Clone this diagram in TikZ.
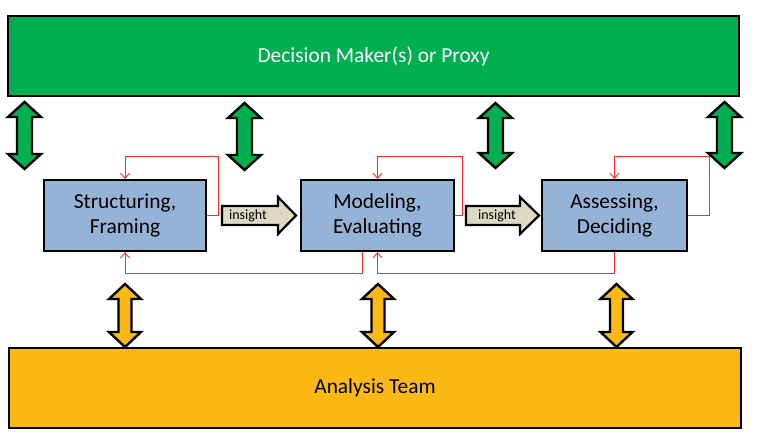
\documentclass[tikz,border=0pt]{standalone}
\usepackage{fontspec}
\setmainfont{Carlito}
\usetikzlibrary{arrows.meta}

\definecolor{dmgreen}{RGB}{0,176,80}
\definecolor{teamgold}{RGB}{253,185,19}
\definecolor{stepblue}{RGB}{149,179,215}
\definecolor{insighttan}{RGB}{221,217,195}
\definecolor{loopred}{RGB}{255,40,40}

% Vertical two-headed block arrow: style, centre x, top y, bottom y, head half-width, shaft half-width
\newcommand\blockbiarrow[6]{%
  \draw[#1] (#2,#3) -- (#2+#5,#3+15) -- (#2+#6,#3+15) -- (#2+#6,#4-15)
    -- (#2+#5,#4-15) -- (#2,#4) -- (#2-#5,#4-15) -- (#2-#6,#4-15)
    -- (#2-#6,#3+15) -- (#2-#5,#3+15) -- cycle;}

\begin{document}
\begin{tikzpicture}[x=1pt,y=-1pt,
  bar/.style={draw=black, line width=2.6pt, minimum width=731pt, minimum height=80pt,
    font=\fontsize{21.4}{25}\selectfont},
  stepbox/.style={draw=black, line width=2.4pt, fill=stepblue, minimum height=71pt,
    align=center, font=\fontsize{21.4}{25}\selectfont},
  greenarrow/.style={draw=black, line width=2.4pt, fill=dmgreen, line join=miter},
  goldarrow/.style={draw=black, line width=2.4pt, fill=teamgold, line join=miter},
  insightarrow/.style={draw=black, line width=2.2pt, fill=insighttan, line join=miter},
  loop/.style={draw=loopred, line width=0.9pt,
    -{Straight Barb[length=5pt,width=9pt,line width=0.9pt]}},
]
\useasboundingbox (0,0) rectangle (758,437);

% stakeholder bars
\node[bar, fill=dmgreen, text=white] (dm) at (373.5,56) {Decision Maker(s) or Proxy};
\node[bar, fill=teamgold, minimum width=732pt] (team) at (375,388) {Analysis Team};

% process steps
\node[stepbox, minimum width=162pt] (s1) at (125,215.5) {Structuring,\\Framing};
\node[stepbox, minimum width=153pt] (s2) at (377.5,215.5) {Modeling,\\Evaluating};
\node[stepbox, minimum width=145pt] (s3) at (614.5,215.5) {Assessing,\\Deciding};

% exchange with the decision makers
\blockbiarrow{greenarrow}{24.5}{102}{169}{16.5}{7.5}
\blockbiarrow{greenarrow}{244.5}{103}{170}{16.5}{7.5}
\blockbiarrow{greenarrow}{495.5}{103}{168}{16.5}{7.5}
\blockbiarrow{greenarrow}{724.5}{102}{168}{16.5}{7.5}

% exchange with the analysis team
\blockbiarrow{goldarrow}{125}{284}{347}{16}{6.5}
\blockbiarrow{goldarrow}{378}{284}{347}{16}{6.5}
\blockbiarrow{goldarrow}{616.5}{284}{347}{16}{6.5}

% insight arrows between steps
\draw[insightarrow] (222,206) -- (278,206) -- (278,197) -- (296,215.5) -- (278,234)
  -- (278,225) -- (222,225) -- cycle;
\node[font=\fontsize{14}{16}\selectfont, inner sep=0pt] (ins1) at (248,215.5) {insight};
\draw[insightarrow] (466,206) -- (520,206) -- (520,197) -- (539,215.5) -- (520,234)
  -- (520,225) -- (466,225) -- cycle;
\node[font=\fontsize{14}{16}\selectfont, inner sep=0pt] (ins2) at (497,215.5) {insight};

% iteration loops above the steps
\draw[loop] (s1.east) -- ++(11,0) |- ([yshift=22pt]s1.north) -- (s1.north);
\draw[loop] (s2.east) -- ++(7,0) |- ([yshift=22pt]s2.north) -- (s2.north);
\draw[loop] (s3.east) -- ++(21,0) |- ([yshift=22pt]s3.north) -- (s3.north);

% feedback to earlier steps
\draw[loop] ([xshift=-15.5pt]s2.south) -- ++(0,21) -| (s1.south);
\draw[loop] (s3.south) -- ++(0,21) -| (s2.south);
\end{tikzpicture}
\end{document}
